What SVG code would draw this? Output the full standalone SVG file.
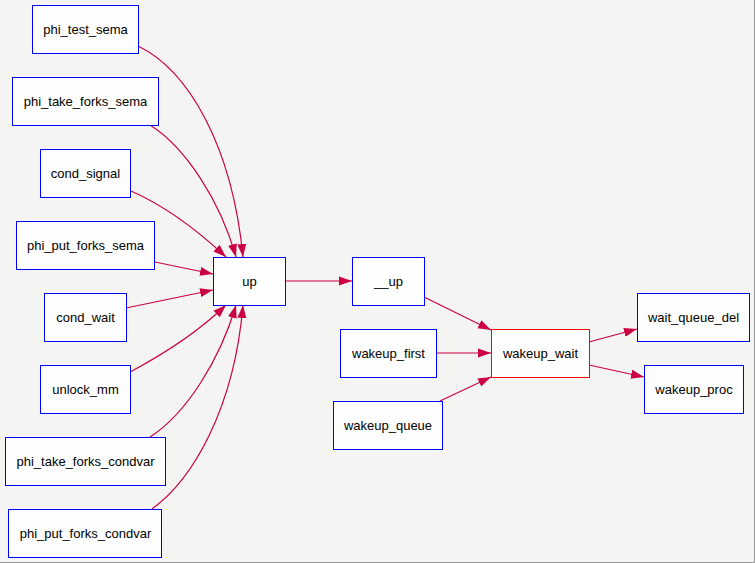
<svg xmlns="http://www.w3.org/2000/svg" width="755" height="563" viewBox="0 0 755 563">
<style>
.n rect{fill:#fdfefd;stroke:#0000ff;stroke-width:1;shape-rendering:crispEdges}
.n text{font-family:"Liberation Sans",Arial,sans-serif;font-size:13px;fill:#000;text-anchor:middle}
.n rect.hl{stroke:#ff0000}
.e path{fill:none;stroke:#cc0044;stroke-width:1.2}
</style>
<defs>
<marker id="ah" markerUnits="userSpaceOnUse" markerWidth="14" markerHeight="10" refX="13" refY="4.5" orient="auto" viewBox="0 0 14 9">
<path d="M0,0 L13,4.5 L0,9 z" fill="#cc0044"/>
</marker>
</defs>
<rect x="0" y="0" width="755" height="563" fill="#f4f5f3"/>
<path d="M754.5,0 V562.5 H0" fill="none" stroke="#999" stroke-width="1"/>
<g id="edges" class="e">
<path d="M138,46 C188,70 232,145 243,257" marker-end="url(#ah)"/>
<path d="M150,125 C185,147 220,200 236,257" marker-end="url(#ah)"/>
<path d="M131,191 C163,205 195,228 226,257" marker-end="url(#ah)"/>
<path d="M155,262 L213,274" marker-end="url(#ah)"/>
<path d="M126,308 L213,290" marker-end="url(#ah)"/>
<path d="M130,372 C162,355 198,332 226,305" marker-end="url(#ah)"/>
<path d="M150,437 C186,414 220,360 236,305" marker-end="url(#ah)"/>
<path d="M152,509 C192,480 234,410 243,305" marker-end="url(#ah)"/>
<path d="M285,281 L352,281" marker-end="url(#ah)"/>
<path d="M424,297 L491,330" marker-end="url(#ah)"/>
<path d="M436,353 L491,353" marker-end="url(#ah)"/>
<path d="M440,401 L491,377" marker-end="url(#ah)"/>
<path d="M589,342 L637,329" marker-end="url(#ah)"/>
<path d="M589,365 L644,377" marker-end="url(#ah)"/>
</g>
<g id="phi_test_sema" class="n"><rect x="32.5" y="5.5" width="106" height="48"/><text x="85.5" y="34">phi_test_sema</text></g>
<g id="phi_take_forks_sema" class="n"><rect x="12.5" y="77.5" width="146" height="48"/><text x="85.5" y="106">phi_take_forks_sema</text></g>
<g id="cond_signal" class="n"><rect x="40.5" y="149.5" width="90" height="48"/><text x="85.5" y="178">cond_signal</text></g>
<g id="phi_put_forks_sema" class="n"><rect x="16.5" y="221.5" width="138" height="48"/><text x="85.5" y="250">phi_put_forks_sema</text></g>
<g id="cond_wait" class="n"><rect x="44.5" y="293.5" width="82" height="48"/><text x="85.5" y="322">cond_wait</text></g>
<g id="unlock_mm" class="n"><rect x="40.5" y="365.5" width="90" height="48"/><text x="85.5" y="394">unlock_mm</text></g>
<g id="phi_take_forks_condvar" class="n"><rect x="5.5" y="437.5" width="160" height="48"/><text x="85.5" y="466">phi_take_forks_condvar</text></g>
<g id="phi_put_forks_condvar" class="n"><rect x="8.5" y="509.5" width="153" height="48"/><text x="85.5" y="538">phi_put_forks_condvar</text></g>
<g id="up" class="n"><rect x="213.5" y="257.5" width="72" height="48"/><text x="249.5" y="286">up</text></g>
<g id="__up" class="n"><rect x="352.5" y="257.5" width="72" height="48"/><text x="388.5" y="286">__up</text></g>
<g id="wakeup_first" class="n"><rect x="340.5" y="329.5" width="96" height="48"/><text x="388.5" y="358">wakeup_first</text></g>
<g id="wakeup_queue" class="n"><rect x="333.5" y="401.5" width="109" height="48"/><text x="388" y="430">wakeup_queue</text></g>
<g id="wakeup_wait" class="n"><rect class="hl" x="491.5" y="329.5" width="98" height="48"/><text x="540.5" y="358">wakeup_wait</text></g>
<g id="wait_queue_del" class="n"><rect x="637.5" y="293.5" width="112" height="48"/><text x="693.5" y="322">wait_queue_del</text></g>
<g id="wakeup_proc" class="n"><rect x="644.5" y="365.5" width="99" height="48"/><text x="694" y="394">wakeup_proc</text></g>
</svg>
